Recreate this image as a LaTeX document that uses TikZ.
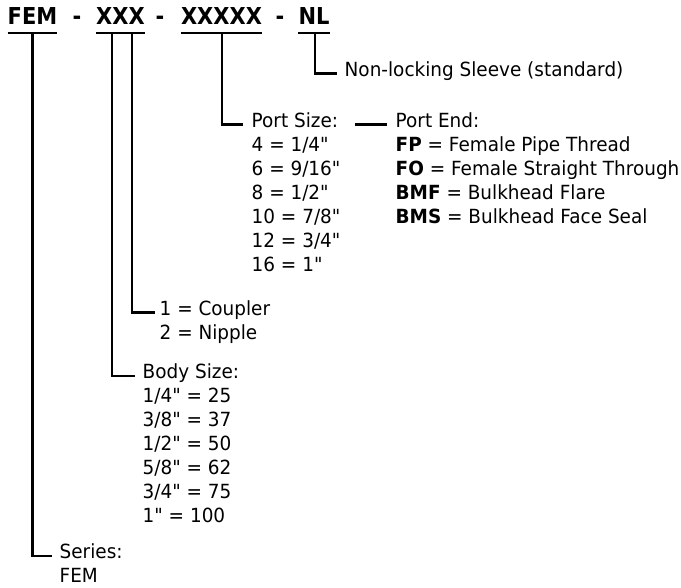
\documentclass[tikz,border=0pt]{standalone}
\usepackage{fontspec}
\setmainfont{DejaVu Sans}[Ligatures=TeXOff, FakeStretch=0.945]
\newfontfamily\titlefont{DejaVu Sans}[FakeStretch=0.9]
\begin{document}
\begin{tikzpicture}[x=1pt,y=-1pt,
  conn/.style={line width=2.6pt},
  ttl/.style={font=\titlefont\bfseries\fontsize{23.3}{28}\selectfont, inner sep=0pt, anchor=base},
  blk/.style={font=\fontsize{19.5}{24}\selectfont, inner sep=0pt, anchor=north west, align=left}]
\useasboundingbox (0,0) rectangle (681,588);
% title
\node[ttl] (fem) at (32.5,25) {FEM};
\node[ttl] (d1) at (77,25) {-};
\node[ttl] (xxx) at (120.5,25) {XXX};
\node[ttl] (d2) at (160,25) {-};
\node[ttl] (x5) at (221.5,25) {XXXXX};
\node[ttl] (d3) at (280,25) {-};
\node[ttl] (nl) at (314,25) {NL};
\foreach \n in {fem,xxx,x5,nl}
  \draw[conn] ([yshift=-8pt]\n.base west) -- ([yshift=-8pt]\n.base east);
% blocks
\node[blk] (nlt) at (344.5,59.2) {\strut Non-locking Sleeve (standard)};
\node[blk] (ps) at (251.5,110.2) {\strut Port Size:\\4 = 1/4"\\6 = 9/16"\\8 = 1/2"\\10 = 7/8"\\12 = 3/4"\\16 = 1"};
\node[blk] (pe) at (395.5,110.2) {\strut Port End:\\\textbf{FP} = Female Pipe Thread\\\textbf{FO} = Female Straight Through\\\textbf{BMF} = Bulkhead Flare\\\textbf{BMS} = Bulkhead Face Seal};
\node[blk] (cp) at (159.5,298.2) {\strut 1 = Coupler\\2 = Nipple};
\node[blk] (bs) at (142.5,361.7) {\strut Body Size:\\1/4" = 25\\3/8" = 37\\1/2" = 50\\5/8" = 62\\3/4" = 75\\1" = 100};
\node[blk] (se) at (59.5,541.7) {\strut Series:\\FEM};
% connectors
\draw[conn] ([yshift=-8pt]fem.base) |- ([shift={(-8pt,-14.3pt)}]se.north west);
\draw[conn] ([xshift=-8.5pt,yshift=-8pt]xxx.base) |- ([shift={(-8pt,-14.3pt)}]bs.north west);
\draw[conn] ([xshift=11.5pt,yshift=-8pt]xxx.base) |- ([shift={(-5pt,-14.3pt)}]cp.north west);
\draw[conn] ([xshift=0.5pt,yshift=-8pt]x5.base) |- ([shift={(-8.5pt,-14.3pt)}]ps.north west);
\draw[conn] ([xshift=1pt,yshift=-8pt]nl.base) |- ([shift={(-7.5pt,-14.3pt)}]nlt.north west);
\draw[conn] ([shift={(-40.5pt,-14.3pt)}]pe.north west) -- ([shift={(-8.5pt,-14.3pt)}]pe.north west);
\end{tikzpicture}
\end{document}
